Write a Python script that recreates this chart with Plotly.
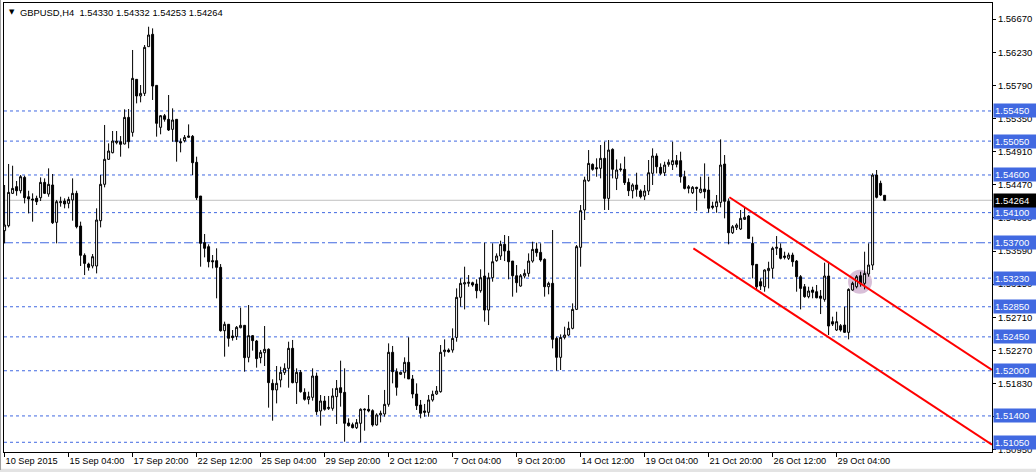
import plotly.graph_objects as go

# ---------------- data ----------------
opens = [
    1.53860, 1.53926, 1.54356, 1.54445, 1.54391, 1.54568, 1.54311, 1.54281, 1.54290, 1.54298,
    1.54502, 1.54347, 1.54467, 1.53971, 1.54232, 1.54254, 1.54223, 1.54268, 1.54356, 1.53922,
    1.53533, 1.53417, 1.53391, 1.53391, 1.53993, 1.54476, 1.54808, 1.54896, 1.55029, 1.55042,
    1.55011, 1.55365, 1.55166, 1.55870, 1.55649, 1.55684, 1.56304, 1.56468, 1.55790, 1.55233,
    1.55387, 1.55339, 1.55206, 1.55339, 1.55042, 1.55055, 1.55100, 1.55113, 1.54768, 1.54320,
    1.53701, 1.53648, 1.53462, 1.53462, 1.53373, 1.52532, 1.52617, 1.52462, 1.52453, 1.52572,
    1.52603, 1.52178, 1.52466, 1.52395, 1.52174, 1.52240, 1.52285, 1.51833, 1.51745, 1.51877,
    1.51975, 1.52032, 1.52298, 1.51842, 1.51979, 1.51713, 1.51620, 1.51647, 1.51930, 1.51466,
    1.51598, 1.51497, 1.51501, 1.51656, 1.51775, 1.51713, 1.51306, 1.51284, 1.51244, 1.51302,
    1.51479, 1.51488, 1.51470, 1.51280, 1.51413, 1.51426, 1.51554, 1.52245, 1.51988, 1.51953,
    1.51979, 1.52112, 1.51891, 1.51691, 1.51545, 1.51466, 1.51448, 1.51612, 1.51691, 1.51722,
    1.52253, 1.52275, 1.52275, 1.52443, 1.52975, 1.53152, 1.53161, 1.53169, 1.53152, 1.53063,
    1.53258, 1.52806, 1.53236, 1.53462, 1.53524, 1.53679, 1.53590, 1.53457, 1.53262, 1.53125,
    1.53258, 1.53293, 1.53457, 1.53617, 1.53572, 1.53479, 1.53116, 1.53161, 1.52430, 1.52178,
    1.52443, 1.52474, 1.52563, 1.52815, 1.53639, 1.54135, 1.54524, 1.54741, 1.54697, 1.54688,
    1.54821, 1.54289, 1.54940, 1.54555, 1.54670, 1.54675, 1.54502, 1.54391, 1.54467, 1.54387,
    1.54320, 1.54387, 1.54622, 1.54852, 1.54701, 1.54630, 1.54741, 1.54737, 1.54790, 1.54790,
    1.54577, 1.54422, 1.54365, 1.54436, 1.54369, 1.54413, 1.54400, 1.54188, 1.54179, 1.54236,
    1.54745, 1.54250, 1.53833, 1.53904, 1.53882, 1.54011, 1.54055, 1.53692, 1.53413, 1.53183,
    1.53116, 1.53329, 1.53360, 1.53626, 1.53626, 1.53524, 1.53493, 1.53537, 1.53457, 1.53249,
    1.53116, 1.52984, 1.53072, 1.53050, 1.52992, 1.52948, 1.53258, 1.52652, 1.52541, 1.52598,
    1.52607, 1.52510, 1.53072, 1.53116, 1.53262, 1.53161, 1.53285, 1.53404, 1.54599, 1.54489,
    1.54330,
]
highs = [
    1.54467, 1.54746, 1.54723, 1.54520, 1.54599, 1.54591, 1.54391, 1.54356, 1.54325, 1.54568,
    1.54555, 1.54688, 1.54613, 1.54268, 1.54311, 1.54290, 1.54311, 1.54555, 1.54391, 1.53980,
    1.53559, 1.53435, 1.53550, 1.54157, 1.54599, 1.55264, 1.55020, 1.55184, 1.55184, 1.55117,
    1.55472, 1.55476, 1.56260, 1.55870, 1.55795, 1.56326, 1.56569, 1.56547, 1.55795, 1.55396,
    1.55410, 1.55662, 1.55485, 1.55343, 1.55086, 1.55131, 1.55272, 1.55131, 1.54843, 1.54320,
    1.53816, 1.53679, 1.53537, 1.53626, 1.53417, 1.52652, 1.52617, 1.52541, 1.52594, 1.52838,
    1.52608, 1.52873, 1.52475, 1.52409, 1.52276, 1.52594, 1.52298, 1.51886, 1.52063, 1.52054,
    1.52099, 1.52386, 1.52409, 1.52032, 1.52010, 1.51767, 1.51722, 1.52032, 1.51975, 1.51678,
    1.51665, 1.51665, 1.51767, 1.51877, 1.52134, 1.52032, 1.51368, 1.51311, 1.51359, 1.51501,
    1.51501, 1.51678, 1.51488, 1.51435, 1.51470, 1.51745, 1.52364, 1.52329, 1.52032, 1.51988,
    1.52178, 1.52444, 1.51944, 1.51833, 1.51612, 1.51559, 1.51678, 1.51736, 1.51797, 1.52342,
    1.52417, 1.52297, 1.52563, 1.53094, 1.53227, 1.53382, 1.53271, 1.53183, 1.53214, 1.53347,
    1.53701, 1.53302, 1.53692, 1.53559, 1.53727, 1.53803, 1.53789, 1.53457, 1.53404, 1.53285,
    1.53347, 1.53559, 1.53714, 1.53701, 1.53692, 1.53493, 1.53183, 1.53869, 1.52452, 1.52483,
    1.52585, 1.52652, 1.52895, 1.53670, 1.54201, 1.54577, 1.54931, 1.54754, 1.54821, 1.54998,
    1.55042, 1.55064, 1.54954, 1.54807, 1.54754, 1.54843, 1.54555, 1.54489, 1.54630, 1.54409,
    1.54467, 1.54799, 1.54954, 1.54887, 1.54754, 1.54776, 1.54807, 1.55042, 1.54865, 1.54909,
    1.54657, 1.54467, 1.54453, 1.54444, 1.54577, 1.54754, 1.54577, 1.54245, 1.54334, 1.55073,
    1.54865, 1.54289, 1.53935, 1.53957, 1.54135, 1.54170, 1.54068, 1.53780, 1.53413, 1.53227,
    1.53347, 1.53448, 1.53648, 1.53789, 1.53692, 1.53581, 1.53568, 1.53568, 1.53471, 1.53271,
    1.53152, 1.53116, 1.53116, 1.53139, 1.53072, 1.53435, 1.53448, 1.52718, 1.52784, 1.52620,
    1.52851, 1.53094, 1.53183, 1.53271, 1.53316, 1.53581, 1.53692, 1.54622, 1.54666, 1.54524,
    1.54332,
]
lows = [
    1.53692, 1.53904, 1.54347, 1.54325, 1.54356, 1.54223, 1.54090, 1.53980, 1.54201, 1.54254,
    1.54347, 1.54311, 1.53949, 1.53692, 1.54179, 1.54157, 1.54157, 1.53993, 1.53891, 1.53391,
    1.53271, 1.53329, 1.53360, 1.53293, 1.53904, 1.54436, 1.54799, 1.54887, 1.55007, 1.54843,
    1.55007, 1.54954, 1.55109, 1.55551, 1.55565, 1.55649, 1.56304, 1.55596, 1.55109, 1.55140,
    1.55308, 1.55184, 1.55042, 1.54777, 1.54901, 1.55033, 1.55095, 1.54599, 1.54268, 1.53382,
    1.53506, 1.53373, 1.53360, 1.52962, 1.52519, 1.52187, 1.52320, 1.52400, 1.52409, 1.52563,
    1.51988, 1.52112, 1.52267, 1.52041, 1.52099, 1.52063, 1.51510, 1.51337, 1.51567, 1.51780,
    1.51944, 1.51775, 1.51833, 1.51559, 1.51709, 1.51603, 1.51554, 1.51603, 1.51413, 1.51271,
    1.51470, 1.51479, 1.51470, 1.51293, 1.51523, 1.51058, 1.51258, 1.51235, 1.51226, 1.51050,
    1.51204, 1.51448, 1.51258, 1.51271, 1.51315, 1.51390, 1.51523, 1.51833, 1.51669, 1.51944,
    1.51899, 1.51891, 1.51634, 1.51479, 1.51368, 1.51390, 1.51390, 1.51590, 1.51678, 1.51709,
    1.52187, 1.52240, 1.52240, 1.52386, 1.52851, 1.52815, 1.53116, 1.53116, 1.52962, 1.53037,
    1.52652, 1.52607, 1.53183, 1.53448, 1.53471, 1.53457, 1.53214, 1.52984, 1.53037, 1.53116,
    1.53227, 1.53249, 1.53435, 1.53515, 1.53448, 1.52984, 1.53015, 1.52297, 1.52001, 1.52010,
    1.52417, 1.52461, 1.52550, 1.52806, 1.53382, 1.54002, 1.54511, 1.54657, 1.54577, 1.54555,
    1.54135, 1.54135, 1.54555, 1.54400, 1.54644, 1.54467, 1.54320, 1.54289, 1.54312, 1.54289,
    1.54267, 1.54334, 1.54467, 1.54622, 1.54599, 1.54586, 1.54710, 1.54666, 1.54701, 1.54498,
    1.54409, 1.54356, 1.54347, 1.54126, 1.54356, 1.54289, 1.54099, 1.54143, 1.54099, 1.54170,
    1.54024, 1.53679, 1.53816, 1.53869, 1.53869, 1.54002, 1.53758, 1.53227, 1.53072, 1.53072,
    1.53050, 1.53094, 1.53227, 1.53537, 1.53479, 1.53479, 1.53471, 1.53382, 1.53050, 1.52815,
    1.52970, 1.52962, 1.52962, 1.52962, 1.52753, 1.52917, 1.52474, 1.52594, 1.52528, 1.52519,
    1.52505, 1.52417, 1.53063, 1.53094, 1.53116, 1.53081, 1.53249, 1.53338, 1.54289, 1.54320,
    1.54253,
]
closes = [
    1.53935, 1.54369, 1.54422, 1.54391, 1.54577, 1.54298, 1.54281, 1.54268, 1.54245, 1.54502,
    1.54356, 1.54476, 1.53966, 1.54245, 1.54245, 1.54215, 1.54276, 1.54356, 1.53913, 1.53533,
    1.53426, 1.53373, 1.53515, 1.54002, 1.54476, 1.54808, 1.54918, 1.55051, 1.55051, 1.55007,
    1.55365, 1.55042, 1.55883, 1.55649, 1.55684, 1.56295, 1.56459, 1.55781, 1.55286, 1.55387,
    1.55339, 1.55197, 1.55330, 1.55042, 1.55029, 1.55100, 1.55117, 1.54763, 1.54298, 1.53692,
    1.53626, 1.53448, 1.53448, 1.53373, 1.52532, 1.52617, 1.52431, 1.52440, 1.52577, 1.52603,
    1.52174, 1.52466, 1.52400, 1.52161, 1.52245, 1.52285, 1.51842, 1.51745, 1.51833, 1.51979,
    1.52032, 1.52298, 1.51842, 1.51979, 1.51722, 1.51620, 1.51656, 1.51930, 1.51457, 1.51598,
    1.51488, 1.51514, 1.51665, 1.51767, 1.51709, 1.51302, 1.51271, 1.51244, 1.51311, 1.51488,
    1.51488, 1.51466, 1.51280, 1.51413, 1.51435, 1.51554, 1.52245, 1.51988, 1.51780, 1.51979,
    1.52112, 1.51891, 1.51691, 1.51536, 1.51435, 1.51448, 1.51612, 1.51687, 1.51731, 1.52245,
    1.52275, 1.52253, 1.52430, 1.52975, 1.53161, 1.53169, 1.53174, 1.53139, 1.53063, 1.53236,
    1.52806, 1.53236, 1.53448, 1.53524, 1.53679, 1.53590, 1.53448, 1.53262, 1.53169, 1.53262,
    1.53293, 1.53457, 1.53612, 1.53568, 1.53471, 1.53116, 1.53161, 1.52417, 1.52178, 1.52443,
    1.52474, 1.52563, 1.52815, 1.53648, 1.54126, 1.54533, 1.54754, 1.54675, 1.54683, 1.54821,
    1.54289, 1.54931, 1.54675, 1.54666, 1.54679, 1.54498, 1.54391, 1.54467, 1.54409, 1.54312,
    1.54387, 1.54630, 1.54852, 1.54710, 1.54622, 1.54732, 1.54768, 1.54790, 1.54741, 1.54577,
    1.54422, 1.54444, 1.54436, 1.54422, 1.54413, 1.54378, 1.54157, 1.54170, 1.54245, 1.54732,
    1.54250, 1.53833, 1.53913, 1.53935, 1.54024, 1.54037, 1.53758, 1.53404, 1.53116, 1.53125,
    1.53338, 1.53360, 1.53626, 1.53639, 1.53493, 1.53506, 1.53537, 1.53448, 1.53249, 1.53094,
    1.52984, 1.53059, 1.53041, 1.52970, 1.52962, 1.53258, 1.52594, 1.52620, 1.52652, 1.52541,
    1.52510, 1.53081, 1.53161, 1.53249, 1.53152, 1.53293, 1.53404, 1.54599, 1.54303, 1.54334,
    1.54264,
]
bar_index = list(range(len(opens)))

time_tick_bars = [0, 16, 32, 48, 64, 80, 96, 112, 128, 144, 160, 176, 192, 208]
time_tick_labels = ["10 Sep 2015", "15 Sep 04:00", "17 Sep 20:00", "22 Sep 12:00",
                    "25 Sep 04:00", "29 Sep 20:00", "2 Oct 12:00", "7 Oct 04:00",
                    "9 Oct 20:00", "14 Oct 12:00", "19 Oct 04:00", "21 Oct 20:00",
                    "26 Oct 12:00", "29 Oct 04:00"]

price_ticks = [1.56670, 1.56230, 1.55790, 1.55350, 1.54910, 1.54470, 1.54030,
               1.53590, 1.53150, 1.52710, 1.52270, 1.51830, 1.51390, 1.50950]

levels = [1.55450, 1.55050, 1.54600, 1.54100, 1.53700, 1.53230,
          1.52850, 1.52450, 1.52000, 1.51400, 1.51050]
dashdot_levels = [1.53700]
bid_price = 1.54264

title_symbol = "GBPUSD,H4"
title_ohlc = ["1.54330", "1.54332", "1.54253", "1.54264"]

upper_channel_x = [181.2, 246.85]
upper_channel_y = [1.54304, 1.52012]
lower_channel_x = [172.2, 246.85]
lower_channel_y = [1.53626, 1.51018]

ellipse_center_bar = 213.85
ellipse_center_price = 1.53183

# ---------------- figure ----------------
FONT = "Liberation Sans, Arial, sans-serif"
BLUE = "#4169E1"

fig = go.Figure()

fig.add_trace(go.Candlestick(
    x=bar_index, open=opens, high=highs, low=lows, close=closes,
    increasing=dict(line=dict(color="black", width=1), fillcolor="white"),
    decreasing=dict(line=dict(color="black", width=1), fillcolor="black"),
    whiskerwidth=0, showlegend=False, hoverinfo="skip",
))

fig.add_trace(go.Scatter(x=upper_channel_x, y=upper_channel_y, mode="lines",
                         line=dict(color="#FF0000", width=2), showlegend=False,
                         hoverinfo="skip"))
fig.add_trace(go.Scatter(x=lower_channel_x, y=lower_channel_y, mode="lines",
                         line=dict(color="#FF0000", width=2), showlegend=False,
                         hoverinfo="skip"))

shapes = []
# bid line
shapes.append(dict(type="line", xref="paper", x0=0, x1=1, yref="y", y0=bid_price, y1=bid_price,
                   line=dict(color="#C0C0C0", width=1), layer="below"))
for lv in levels:
    dash = "9px,3px,3px,3px" if lv in dashdot_levels else "3px,3px"
    shapes.append(dict(type="line", xref="paper", x0=0, x1=1, yref="y", y0=lv, y1=lv,
                       line=dict(color=BLUE, width=1, dash=dash), layer="below"))
# purple marker ellipse
rx_bars = 3.0
ry_price = 0.00160
shapes.append(dict(type="circle", xref="x", yref="y",
                   x0=ellipse_center_bar - rx_bars, x1=ellipse_center_bar + rx_bars,
                   y0=ellipse_center_price - ry_price, y1=ellipse_center_price + ry_price,
                   fillcolor="#D8BFD8", line=dict(width=0), layer="below"))
# window edges
shapes.append(dict(type="rect", xref="paper", yref="paper", x0=-0.01, x1=1.05,
                   y0=-0.0460, y1=-0.0375, fillcolor="#E3E3E3", line=dict(width=0)))
shapes.append(dict(type="rect", xref="paper", yref="paper", x0=-0.00405, x1=-0.0030,
                   y0=-0.04, y1=1.01, fillcolor="#A0A0A0", line=dict(width=0)))

annotations = []
for lv in levels:
    annotations.append(dict(xref="paper", x=1, xanchor="left", xshift=1, yref="y", y=lv,
                            yanchor="middle", text=f"{lv:.5f}", showarrow=False,
                            bgcolor=BLUE, font=dict(family=FONT, size=9.5, color="white"),
                            width=40, align="left", borderpad=1))
annotations.append(dict(xref="paper", x=1, xanchor="left", xshift=1, yref="y", y=bid_price,
                        yanchor="middle", text=f"{bid_price:.5f}", showarrow=False,
                        bgcolor="black", font=dict(family=FONT, size=9.5, color="white"),
                        width=40, align="left", borderpad=1))
annotations.append(dict(xref="paper", x=0, xanchor="center", xshift=8, yref="paper", y=1,
                        yanchor="middle", yshift=-9, text="▼", showarrow=False,
                        font=dict(family="DejaVu Sans", size=7, color="black")))
annotations.append(dict(xref="paper", x=0, xanchor="left", xshift=14, yref="paper", y=1,
                        yanchor="middle", yshift=-9,
                        text=title_symbol + "  " + " ".join(title_ohlc), showarrow=False,
                        font=dict(family=FONT, size=9.4, color="black")))

fig.update_layout(
    width=1036, height=472,
    margin=dict(l=4, r=44, t=3, b=20, pad=0),
    paper_bgcolor="white", plot_bgcolor="white",
    showlegend=False, boxgap=0.3,
    shapes=shapes, annotations=annotations,
    xaxis=dict(range=[-0.15, 246.85], showgrid=False, zeroline=False,
               rangeslider=dict(visible=False),
               showline=True, linecolor="black", linewidth=1, mirror=True,
               ticks="outside", ticklen=4, tickcolor="black", tickwidth=1,
               tickvals=time_tick_bars, ticktext=time_tick_labels,
               ticklabelposition="outside right",
               tickfont=dict(family=FONT, size=9.2, color="black")),
    yaxis=dict(range=[1.50921, 1.56884], side="right", showgrid=False, zeroline=False,
               showline=True, linecolor="black", linewidth=1, mirror=True,
               ticks="outside", ticklen=3, tickcolor="black", tickwidth=1,
               tickvals=price_ticks, ticktext=[f"{v:.5f}" for v in price_ticks],
               tickfont=dict(family=FONT, size=9.5, color="black")),
)

fig.write_html("out.html", config={"displayModeBar": False},
               post_script="document.body.style.margin='0';document.body.style.overflow='hidden';")
